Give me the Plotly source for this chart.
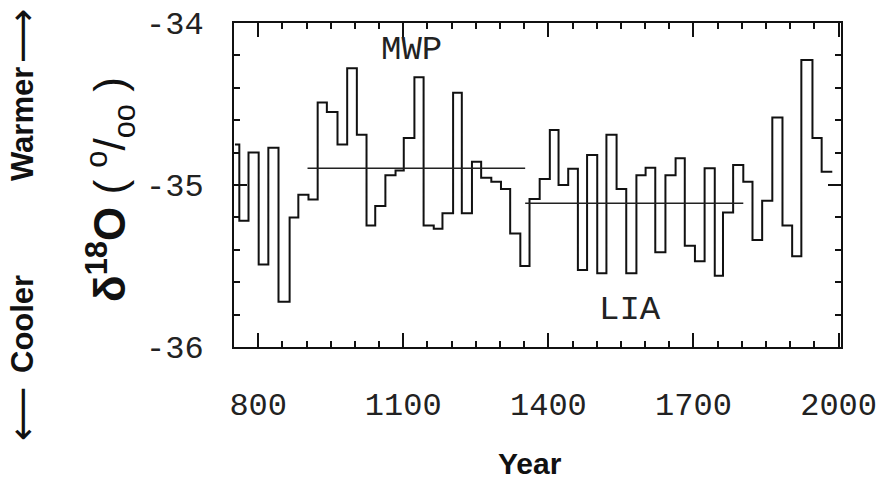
import plotly.graph_objects as go

# Step edges (years) and 20-yr mean d18O values
edges = [752, 761, 780, 801, 821, 842, 865, 883, 904, 923,
         942, 964, 984, 1004, 1024, 1042, 1063, 1084, 1101, 1123,
         1142, 1163, 1181, 1203, 1221, 1242, 1261, 1282, 1302, 1321,
         1342, 1361, 1382, 1403, 1421, 1441, 1461, 1480, 1501, 1520,
         1541, 1561, 1582, 1601, 1621, 1642, 1663, 1682, 1703, 1723,
         1744, 1761, 1782, 1803, 1822, 1842, 1863, 1884, 1904, 1923,
         1946, 1965, 1987]
d18o = [-34.75, -35.22, -34.80, -35.49, -34.77, -35.72, -35.20, -35.06, -35.09, -34.49,
        -34.55, -34.75, -34.28, -34.69, -35.25, -35.13, -34.94, -34.91, -34.71, -34.335,
        -35.25, -35.27, -35.175, -34.43, -35.175, -34.856, -34.955, -34.98, -35.025, -35.30,
        -35.50, -35.086, -34.963, -34.66, -35.00, -34.90, -35.525, -34.815, -35.545, -34.69,
        -35.025, -35.545, -34.94, -34.893, -35.415, -34.94, -34.835, -35.375, -35.47, -34.897,
        -35.56, -35.17, -34.877, -34.98, -35.34, -35.097, -34.584, -35.25, -35.44, -34.228,
        -34.71, -34.918]

mwp_x = [902, 1352]
mwp_y = [-34.897, -34.897]
lia_x = [1352, 1803]
lia_y = [-35.113, -35.113]

x_tickvals = [800, 1100, 1400, 1700, 2000]
x_ticktext = ["800", "1100", "1400", "1700", "2000"]
y_tickvals = [-36, -35, -34]
y_ticktext = ["-36", "-35", "-34"]

step_x = edges
step_y = d18o + [d18o[-1]]

fig = go.Figure()
fig.add_trace(go.Scatter(x=step_x, y=step_y, mode="lines", line_shape="hv",
                         line=dict(color="#111", width=2), showlegend=False))
fig.add_trace(go.Scatter(x=mwp_x, y=mwp_y, mode="lines",
                         line=dict(color="#222", width=1.6), showlegend=False))
fig.add_trace(go.Scatter(x=lia_x, y=lia_y, mode="lines",
                         line=dict(color="#222", width=1.6), showlegend=False))

tickfont = dict(family="Liberation Mono", size=32, color="#222")

fig.update_xaxes(range=[750, 2005], tickvals=x_tickvals, ticktext=x_ticktext,
                 ticks="inside", ticklen=14, tickwidth=1.5, tickcolor="#111",
                 minor=dict(dtick=50, tick0=800, ticks="inside", ticklen=6, tickwidth=1.5, tickcolor="#111"),
                 showline=True, linecolor="#111", linewidth=2, mirror="allticks",
                 showgrid=False, zeroline=False, tickfont=tickfont, ticklabelstandoff=28,
                 automargin=False)
fig.update_yaxes(range=[-36, -34], tickvals=y_tickvals, ticktext=y_ticktext,
                 ticks="inside", ticklen=13, tickwidth=1.5, tickcolor="#111",
                 minor=dict(dtick=0.2, tick0=-36, ticks="inside", ticklen=6, tickwidth=1.5, tickcolor="#111"),
                 showline=True, linecolor="#111", linewidth=2, mirror="allticks",
                 showgrid=False, zeroline=False, tickfont=tickfont, ticklabelstandoff=22,
                 automargin=False)

W, H = 877, 492
ML, MR, MT, MB = 234, 36, 23, 145
PW, PH = W - ML - MR, H - MT - MB

def px(xp):
    return (xp - ML) / PW

def py(yp):
    return 1 - (yp - MT) / PH

fig.update_layout(width=W, height=H, margin=dict(l=ML, r=MR, t=MT, b=MB),
                  paper_bgcolor="white", plot_bgcolor="white")

def note(x, y, text, font, angle=0, ref="paper"):
    fig.add_annotation(x=x, y=y, xref=ref if ref == "paper" else "x",
                       yref=ref if ref == "paper" else "y",
                       text=text, showarrow=False, font=font, textangle=angle,
                       xanchor="center", yanchor="middle")

ann_font = dict(family="Liberation Mono", size=34, color="#222")
note(1118, -34.167, "MWP", ann_font, ref="data")
note(1568, -35.77, "LIA", ann_font, ref="data")

note(px(530), py(463), "<b>Year</b>", dict(family="Liberation Sans", size=30, color="#111"))

note(px(110), py(190), "<b>δ<sup>18</sup>O</b> ( <sup>o</sup>/<sub>oo</sub> )",
     dict(family="Liberation Sans", size=44, color="#111"), angle=-90)

side = dict(family="Liberation Sans", size=31, color="#111")
arrow = dict(family="DejaVu Sans", size=38, color="#111")
note(px(22), py(124), "<b>Warmer</b>", side, angle=-90)
note(px(22), py(36), "⟶", arrow, angle=-90)
note(px(22), py(324), "<b>Cooler</b>", side, angle=-90)
note(px(22), py(414), "⟵", arrow, angle=-90)

fig.write_html("out.html")
